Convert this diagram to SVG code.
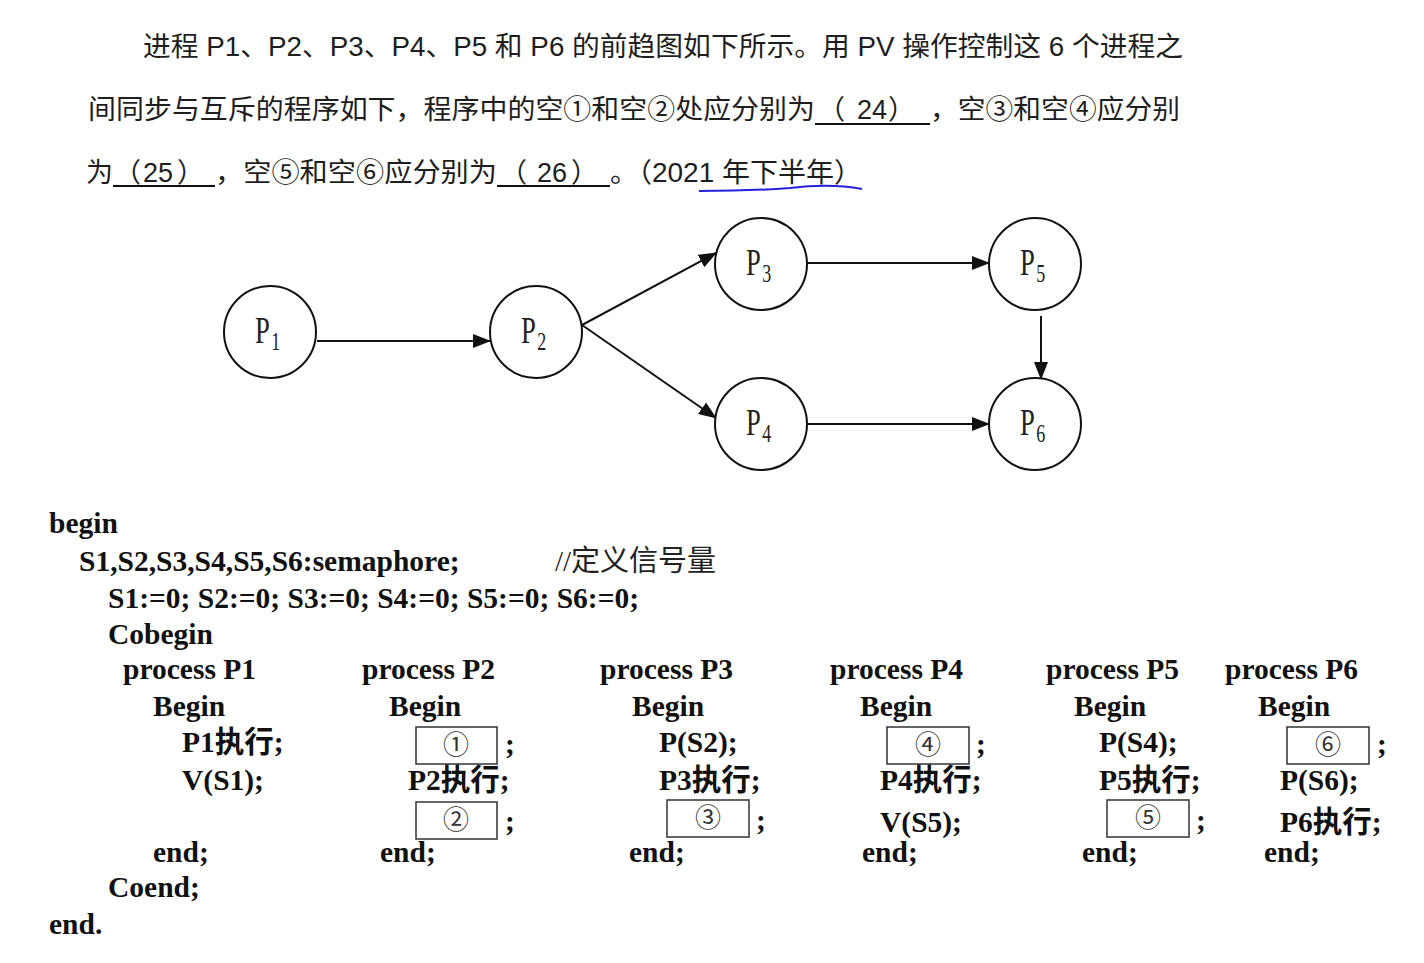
<svg xmlns="http://www.w3.org/2000/svg" width="1424" height="963" viewBox="0 0 1424 963">
<defs>
<style>
.top{font-family:"Liberation Sans","Noto Sans CJK SC",sans-serif;font-size:27px;fill:#1e1e1e}
.code{font-family:"Liberation Serif","Noto Sans CJK SC",serif;font-size:29.5px;font-weight:bold;fill:#111}
.cmt{font-family:"Liberation Serif","Noto Sans CJK SC",serif;font-size:29px;fill:#222}
.num{font-family:"Liberation Serif","Noto Sans CJK SC",serif;font-size:26px;fill:#333;text-anchor:middle}
.box{fill:none;stroke:#333;stroke-width:1.5}
.node circle{fill:#fff;stroke:#111;stroke-width:2}
.lbl{font-family:"Liberation Serif",serif;font-size:37px;fill:#222}
.sub{font-size:25px}
.conn line{stroke:#111;stroke-width:2}
.ul{stroke:#111;stroke-width:2}
</style>
<marker id="ah" markerWidth="18" markerHeight="14" refX="17" refY="7" orient="auto" markerUnits="userSpaceOnUse">
<path d="M0,0 L18,7 L0,14 Z" fill="#111"/>
</marker>
</defs>
<rect width="1424" height="963" fill="#fff"/>

<g id="question">
<text class="top" x="143" y="56" textLength="1040" lengthAdjust="spacingAndGlyphs">进程 P1、P2、P3、P4、P5 和 P6 的前趋图如下所示。用 PV 操作控制这 6 个进程之</text>
<text class="top" x="88" y="119" textLength="727" lengthAdjust="spacingAndGlyphs">间同步与互斥的程序如下，程序中的空①和空②处应分别为</text>
<text class="top" x="818" y="119">（<tspan x="857">24</tspan><tspan x="888">）</tspan></text>
<text class="top" x="930" y="119" textLength="250" lengthAdjust="spacingAndGlyphs">，空③和空④应分别</text>
<line class="ul" x1="815" y1="124" x2="930" y2="124"/>
<text class="top" x="86" y="182">为</text>
<text class="top" x="114" y="182">（<tspan x="143">25</tspan><tspan x="177">）</tspan></text>
<line class="ul" x1="113" y1="186" x2="215" y2="186"/>
<text class="top" x="215" y="182" textLength="282" lengthAdjust="spacingAndGlyphs">，空⑤和空⑥应分别为</text>
<text class="top" x="500" y="182">（<tspan x="537">26</tspan><tspan x="571">）</tspan></text>
<line class="ul" x1="497" y1="186" x2="610" y2="186"/>
<text class="top" x="610" y="182" textLength="252" lengthAdjust="spacingAndGlyphs">。（2021 年下半年）</text>
<path d="M699,191 Q750,191 790,188 Q830,183 862,189" fill="none" stroke="#2222dd" stroke-width="2"/>
</g>

<g class="conn" id="connectors">
<line x1="317" y1="341" x2="490" y2="341" marker-end="url(#ah)"/>
<line x1="582" y1="325" x2="716" y2="253" marker-end="url(#ah)"/>
<line x1="582" y1="325" x2="716" y2="418" marker-end="url(#ah)"/>
<line x1="807" y1="263" x2="989" y2="263" marker-end="url(#ah)"/>
<line x1="807" y1="424" x2="989" y2="424" marker-end="url(#ah)"/>
<line x1="1041" y1="316" x2="1041" y2="379" marker-end="url(#ah)"/>
</g>

<g class="node" id="node-p1"><circle cx="270" cy="332" r="46"/><text class="lbl" transform="translate(255,343) scale(0.72,1)">P<tspan class="sub" dx="2" dy="7">1</tspan></text></g>
<g class="node" id="node-p2"><circle cx="536" cy="332" r="46"/><text class="lbl" transform="translate(521,343) scale(0.72,1)">P<tspan class="sub" dx="2" dy="7">2</tspan></text></g>
<g class="node" id="node-p3"><circle cx="761" cy="264" r="46"/><text class="lbl" transform="translate(746,275) scale(0.72,1)">P<tspan class="sub" dx="2" dy="7">3</tspan></text></g>
<g class="node" id="node-p4"><circle cx="761" cy="424" r="46"/><text class="lbl" transform="translate(746,435) scale(0.72,1)">P<tspan class="sub" dx="2" dy="7">4</tspan></text></g>
<g class="node" id="node-p5"><circle cx="1035" cy="264" r="46"/><text class="lbl" transform="translate(1020,275) scale(0.72,1)">P<tspan class="sub" dx="2" dy="7">5</tspan></text></g>
<g class="node" id="node-p6"><circle cx="1035" cy="424" r="46"/><text class="lbl" transform="translate(1020,435) scale(0.72,1)">P<tspan class="sub" dx="2" dy="7">6</tspan></text></g>

<g id="program">
<text class="code" x="49" y="533">begin</text>
<text class="code" x="79" y="571">S1,S2,S3,S4,S5,S6:semaphore;</text>
<text class="cmt" x="555" y="571">//定义信号量</text>
<text class="code" x="108" y="608">S1:=0; S2:=0; S3:=0; S4:=0; S5:=0; S6:=0;</text>
<text class="code" x="108" y="644">Cobegin</text>

<text class="code" x="123" y="679">process P1</text>
<text class="code" x="362" y="679">process P2</text>
<text class="code" x="600" y="679">process P3</text>
<text class="code" x="830" y="679">process P4</text>
<text class="code" x="1046" y="679">process P5</text>
<text class="code" x="1225" y="679">process P6</text>

<text class="code" x="153" y="716">Begin</text>
<text class="code" x="389" y="716">Begin</text>
<text class="code" x="632" y="716">Begin</text>
<text class="code" x="860" y="716">Begin</text>
<text class="code" x="1074" y="716">Begin</text>
<text class="code" x="1258" y="716">Begin</text>

<text class="code" x="182" y="752">P1执行;</text>
<rect class="box" x="416" y="727" width="81" height="37"/><text class="num" x="456" y="754">①</text><text class="code" x="505" y="754">;</text>
<text class="code" x="659" y="752">P(S2);</text>
<rect class="box" x="887" y="727" width="82" height="37"/><text class="num" x="928" y="754">④</text><text class="code" x="976" y="754">;</text>
<text class="code" x="1099" y="752">P(S4);</text>
<rect class="box" x="1287" y="727" width="82" height="37"/><text class="num" x="1328" y="754">⑥</text><text class="code" x="1377" y="754">;</text>

<text class="code" x="182" y="790">V(S1);</text>
<text class="code" x="408" y="790">P2执行;</text>
<text class="code" x="659" y="790">P3执行;</text>
<text class="code" x="880" y="790">P4执行;</text>
<text class="code" x="1099" y="790">P5执行;</text>
<text class="code" x="1280" y="790">P(S6);</text>

<rect class="box" x="416" y="802" width="81" height="37"/><text class="num" x="456" y="829">②</text><text class="code" x="505" y="831">;</text>
<rect class="box" x="667" y="800" width="82" height="37"/><text class="num" x="708" y="827">③</text><text class="code" x="756" y="830">;</text>
<text class="code" x="880" y="832">V(S5);</text>
<rect class="box" x="1107" y="800" width="82" height="37"/><text class="num" x="1148" y="827">⑤</text><text class="code" x="1196" y="830">;</text>
<text class="code" x="1280" y="832">P6执行;</text>

<text class="code" x="153" y="862">end;</text>
<text class="code" x="380" y="862">end;</text>
<text class="code" x="629" y="862">end;</text>
<text class="code" x="862" y="862">end;</text>
<text class="code" x="1082" y="862">end;</text>
<text class="code" x="1264" y="862">end;</text>

<text class="code" x="108" y="897">Coend;</text>
<text class="code" x="49" y="934">end.</text>
</g>
</svg>
